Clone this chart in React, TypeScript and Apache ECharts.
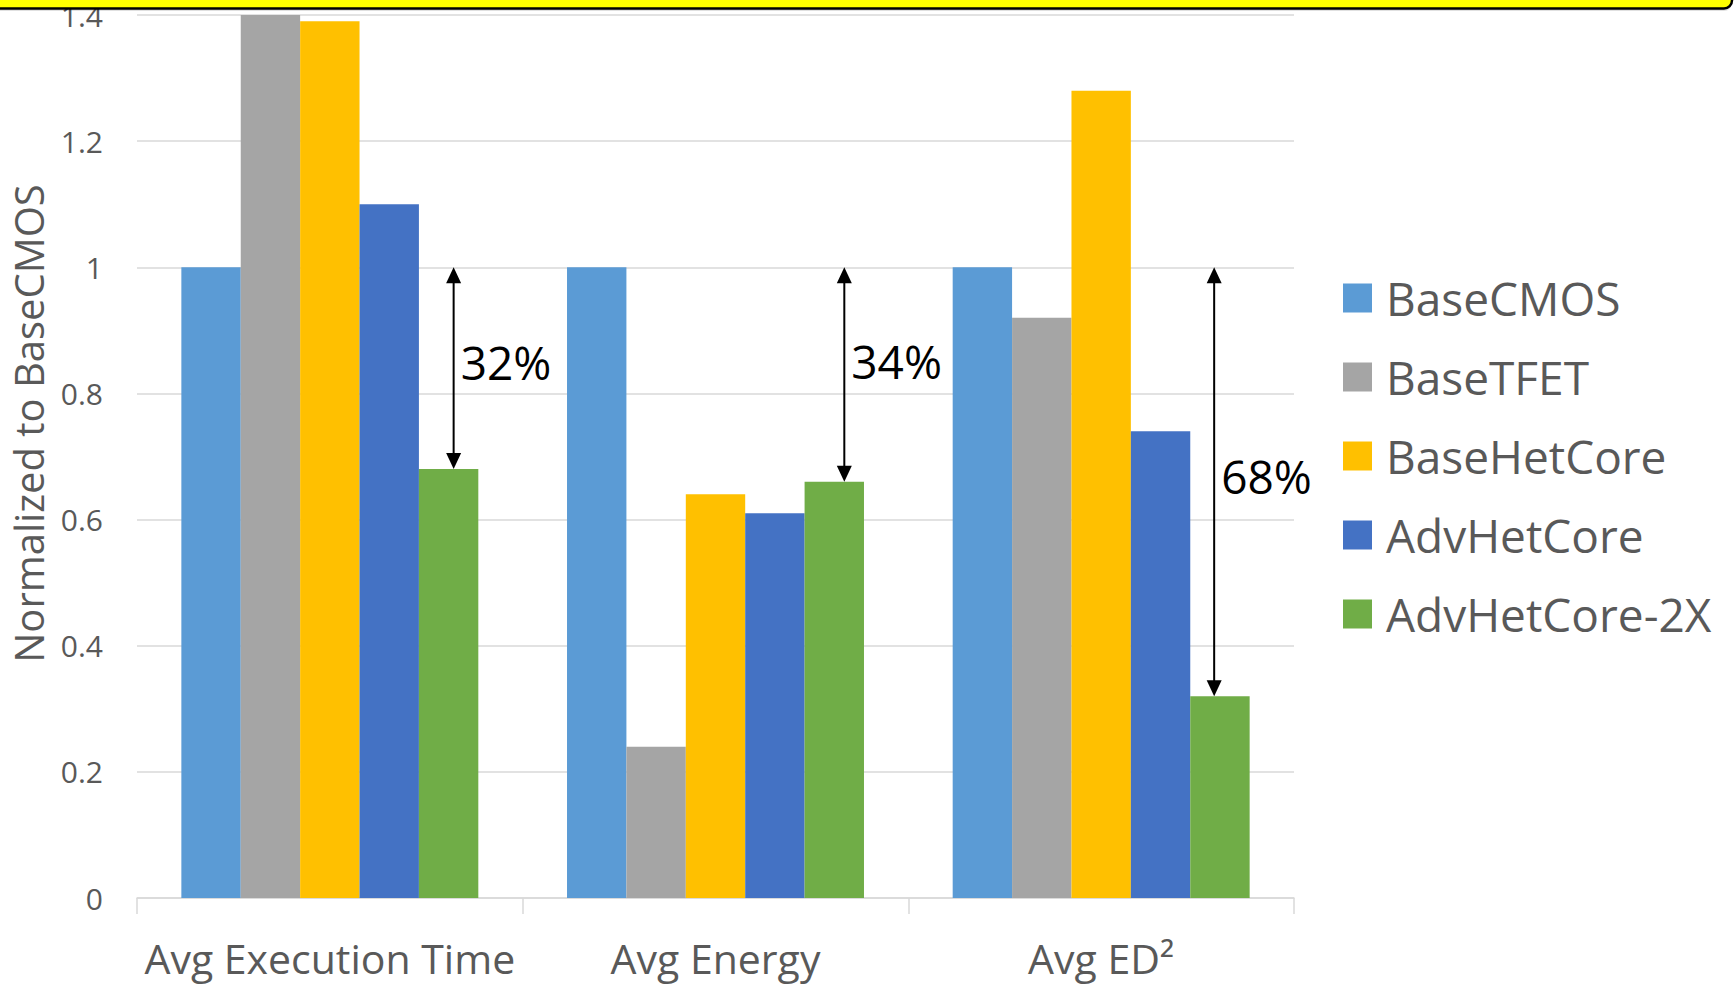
import React, { useEffect, useRef } from "react";
import * as echarts from "echarts";

// Benchmarks on the x axis
const categories = ["Avg Execution Time", "Avg Energy", "Avg ED²"];

// Configurations (legend order)
const seriesNames = ["BaseCMOS", "BaseTFET", "BaseHetCore", "AdvHetCore", "AdvHetCore-2X"];
const seriesColors = ["#5B9BD5", "#A5A5A5", "#FFC000", "#4472C4", "#70AD47"];

// Values normalized to BaseCMOS
const baseCMOS = [1.0, 1.0, 1.0];
const baseTFET = [1.45, 0.24, 0.92];
const baseHetCore = [1.39, 0.64, 1.28];
const advHetCore = [1.1, 0.61, 0.74];
const advHetCore2X = [0.68, 0.66, 0.32];

const seriesValues = [baseCMOS, baseTFET, baseHetCore, advHetCore, advHetCore2X];

// Y axis range
const yMin = 0;
const yMax = 1.4;
const yStep = 0.2;

// Savings arrows: from the BaseCMOS level down to AdvHetCore-2X
const arrowFrom = baseCMOS;
const arrowTo = advHetCore2X;
// horizontal place of each arrow as a fraction of the category band from its centre
const arrowOffset = [0.321, 0.334, 0.293];
// vertical nudge of each percentage label from the arrow's middle (px)
const labelNudge = [-6, -14, -6];

const FONT = "'Open Sans', 'Noto Sans', sans-serif";
const GREY_TEXT = "#595959";
const GRID_LINE = "#d9d9d9";

export default function App() {
  const ref = useRef<HTMLDivElement | null>(null);

  useEffect(() => {
    if (!ref.current) return;
    const chart = echarts.init(ref.current, null, { renderer: "svg" });

    const option: any = {
      animation: false,
      backgroundColor: "#ffffff",
      textStyle: { fontFamily: FONT },
      grid: { left: 135, right: 440, top: 11, bottom: 87 },
      legend: {
        orient: "vertical",
        left: 1338,
        top: 268,
        itemWidth: 29,
        itemHeight: 29,
        itemGap: 29,
        icon: "rect",
        data: seriesNames,
        textStyle: {
          fontFamily: FONT,
          fontSize: 46,
          color: GREY_TEXT,
          lineHeight: 50,
          padding: [0, 0, 0, 9],
        },
      },
      xAxis: [
        {
          type: "category",
          data: categories,
          axisLine: { lineStyle: { color: GRID_LINE, width: 1.5 } },
          axisTick: {
            show: true,
            length: 16,
            alignWithLabel: false,
            lineStyle: { color: GRID_LINE, width: 1.5 },
          },
          axisLabel: {
            fontFamily: FONT,
            fontSize: 41,
            color: GREY_TEXT,
            margin: 38,
            lineHeight: 44,
            interval: 0,
          },
        },
      ],
      yAxis: [
        {
          type: "value",
          min: yMin,
          max: yMax,
          interval: yStep,
          axisLine: { show: false },
          axisTick: { show: false },
          splitLine: { lineStyle: { color: GRID_LINE, width: 1.5 } },
          axisLabel: {
            fontFamily: FONT,
            fontSize: 30,
            color: GREY_TEXT,
            margin: 34,
          },
          name: "Normalized to BaseCMOS",
          nameLocation: "middle",
          nameGap: 89,
          nameTextStyle: {
            fontFamily: FONT,
            fontSize: 40,
            color: GREY_TEXT,
            padding: [0, 0, 0, 66],
          },
        },
      ],
      series: seriesNames.map((name, i) => ({
        name,
        type: "bar",
        data: seriesValues[i],
        barGap: "0%",
        barCategoryGap: "23%",
        clip: true,
        itemStyle: { color: seriesColors[i] },
      })),
    };

    chart.setOption(option);

    // Savings arrows and their percentage labels, placed through the axes
    const c0 = chart.convertToPixel({ xAxisIndex: 0 }, categories[0]) as number;
    const c1 = chart.convertToPixel({ xAxisIndex: 0 }, categories[1]) as number;
    const band = c1 - c0;
    const headW = 7.5;
    const headH = 16;
    const graphics: any[] = [];

    categories.forEach((cat, i) => {
      const cx = chart.convertToPixel({ xAxisIndex: 0 }, cat) as number;
      const x = cx + arrowOffset[i] * band;
      const yTop = chart.convertToPixel({ yAxisIndex: 0 }, arrowFrom[i]) as number;
      const yBot = chart.convertToPixel({ yAxisIndex: 0 }, arrowTo[i]) as number;
      const pct = Math.round((arrowFrom[i] - arrowTo[i]) * 100) + "%";

      graphics.push({
        type: "line",
        z: 50,
        shape: { x1: x, y1: yTop + headH - 2, x2: x, y2: yBot - headH + 2 },
        style: { stroke: "#000", lineWidth: 2 },
      });
      graphics.push({
        type: "polygon",
        z: 50,
        shape: { points: [[x, yTop], [x - headW, yTop + headH], [x + headW, yTop + headH]] },
        style: { fill: "#000" },
      });
      graphics.push({
        type: "polygon",
        z: 50,
        shape: { points: [[x, yBot], [x - headW, yBot - headH], [x + headW, yBot - headH]] },
        style: { fill: "#000" },
      });
      graphics.push({
        type: "text",
        z: 50,
        x: x + 7,
        y: (yTop + yBot) / 2 + labelNudge[i],
        style: {
          text: pct,
          fontFamily: FONT,
          fontSize: 46,
          fill: "#000",
          align: "left",
          verticalAlign: "middle",
        },
      });
    });

    // Highlight band across the top edge
    graphics.push({
      type: "rect",
      z: 200,
      shape: { x: -20, y: -30, width: 1752, height: 41, r: 8 },
      style: { fill: "rgba(0,0,0,0.12)" },
    });
    graphics.push({
      type: "rect",
      z: 201,
      shape: { x: -20, y: -30, width: 1752, height: 38.5, r: 8 },
      style: { fill: "#FFFF00", stroke: "#000", lineWidth: 2.5 },
    });

    chart.setOption({ graphic: graphics });

    return () => {
      chart.dispose();
    };
  }, []);

  return (
    <div
      ref={ref}
      style={{
        position: "fixed",
        left: 0,
        top: 0,
        width: 1734,
        height: 985,
        background: "#ffffff",
      }}
    />
  );
}
